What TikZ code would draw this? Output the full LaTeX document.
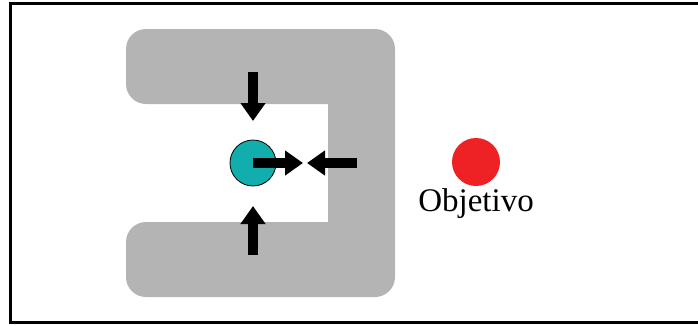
\documentclass[tikz,border=0pt]{standalone}
\usepackage{fontspec}
\setmainfont{Liberation Serif}
\usetikzlibrary{arrows.meta}
\definecolor{wallgray}{RGB}{180,180,180}
\definecolor{robotteal}{RGB}{18,174,174}
\definecolor{goalred}{RGB}{238,34,36}
\tikzset{
  push/.style={line width=10pt, -{Triangle[length=18pt,width=24pt]}, black},
}
\begin{document}
\begin{tikzpicture}[x=1pt,y=-1pt]
\useasboundingbox (0,0) rectangle (698,325);
% outer frame (open to the right)
\draw[line width=3pt] (710,3.5) -- (10.5,3.5) -- (10.5,322.5) -- (710,322.5);
% U-shaped obstacle
\fill[wallgray, rounded corners=20pt]
  (126,29) -- (395,29) -- (395,297) -- (126,297) -- (126,222)
  [sharp corners] -- (328,222) -- (328,104) [rounded corners=20pt] -- (126,104) -- cycle;
% robot and goal
\node (robot) [circle, draw=black, line width=0.8pt, fill=robotteal, minimum size=46pt, inner sep=0pt] at (253,163) {};
\node (goal) [circle, fill=goalred, minimum size=48pt, inner sep=0pt] at (476,162) {};
\node (label) [anchor=base, font=\fontsize{33}{36}\selectfont, inner sep=0pt] at (476,211) {Objetivo};
% force arrows
\coordinate (topS) at (253,72);   \coordinate (topE) at (253,121);
\coordinate (botS) at (253,255);  \coordinate (botE) at (253,206);
\coordinate (rightE) at (303,163);
\coordinate (leftS) at (357,163); \coordinate (leftE) at (307,163);
\draw[push] (topS) -- (topE);
\draw[push] (botS) -- (botE);
\draw[push] (robot.center) -- (rightE);
\draw[push] (leftS) -- (leftE);
\end{tikzpicture}
\end{document}
